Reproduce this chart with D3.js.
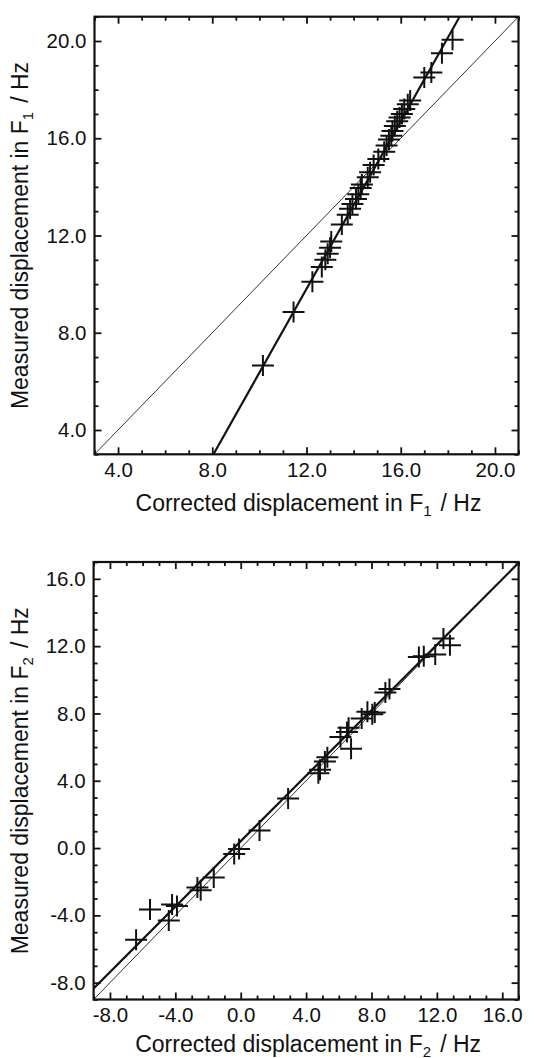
<!DOCTYPE html>
<html>
<head>
<meta charset="utf-8">
<script src="https://cdn.jsdelivr.net/npm/d3@7"></script>
<style>
body { margin: 0; background: #fff; }
svg { display: block; font-family: "Liberation Sans", Arial, Helvetica, sans-serif; }
</style>
</head>
<body>
<svg id="chart" width="539" height="1058"></svg>
<script>
// F1 panel: corrected vs measured displacement (Hz)
var f1Corrected = [10.15, 11.45, 12.25, 12.65, 12.8, 12.9, 13.0, 13.05, 13.5, 13.75, 13.85, 13.95,
    14.1, 14.2, 14.3, 14.35, 14.6, 14.7, 14.85, 15.05, 15.3, 15.4, 15.5, 15.6, 15.65, 15.75,
    15.85, 15.95, 16.05, 16.15, 16.3, 16.4, 17.0, 17.3, 17.75, 18.2];
var f1Measured = [6.65, 8.85, 10.1, 10.7, 11.0, 11.25, 11.5, 11.75, 12.45, 12.85, 13.1, 13.3,
    13.5, 13.7, 13.95, 14.1, 14.4, 14.6, 14.9, 15.15, 15.45, 15.7, 15.95, 16.1, 16.3, 16.5,
    16.7, 16.85, 17.0, 17.2, 17.4, 17.55, 18.5, 18.7, 19.5, 20.05];
var f1FitX = [8.05, 18.5];
var f1FitY = [3, 21];
var f1Ticks = [4, 8, 12, 16, 20];

// F2 panel
var f2Corrected = [-6.4, -5.55, -4.4, -4.2, -3.9, -2.65, -2.45, -1.65, -0.4, -0.1, 1.15, 2.9,
    4.75, 4.85, 5.15, 5.3, 6.1, 6.5, 6.6, 6.75, 7.4, 7.75, 8.05, 8.2, 8.85, 9.1,
    10.9, 11.2, 11.9, 12.4, 12.8];
var f2Measured = [-5.45, -3.65, -4.3, -3.35, -3.45, -2.35, -2.5, -1.75, -0.35, -0.05, 1.05, 2.95,
    4.45, 4.65, 5.15, 5.4, 6.6, 6.9, 7.15, 5.9, 7.7, 8.1, 7.95, 8.05, 9.25, 9.45,
    11.35, 11.4, 11.5, 12.45, 12.05];
var f2FitX = [-9, 17];
var f2FitY = [-8.35, 16.95];
var f2Ticks = [-8, -4, 0, 4, 8, 12, 16];

var svg = d3.select("#chart");

function drawPanel(p) {
    var x = d3.scaleLinear().domain(p.domain).range([p.left, p.right]);
    var y = d3.scaleLinear().domain(p.domain).range([p.bottom, p.top]);
    var minors = d3.range(Math.ceil(p.domain[0]), Math.floor(p.domain[1]) + 1)
        .filter(v => p.ticks.indexOf(v) < 0);
    var fmt = d => d.toFixed(1);

    var g = svg.append("g");

    g.append("clipPath").attr("id", p.id + "-clip")
        .append("rect")
        .attr("x", p.left).attr("y", p.top)
        .attr("width", p.right - p.left).attr("height", p.bottom - p.top);

    // ticks on all four sides, pointing inwards
    var axes = [
        { ax: d3.axisBottom(x), t: "translate(0," + p.bottom + ")", label: true },
        { ax: d3.axisTop(x), t: "translate(0," + p.top + ")", label: false },
        { ax: d3.axisLeft(y), t: "translate(" + p.left + ",0)", label: true },
        { ax: d3.axisRight(y), t: "translate(" + p.right + ",0)", label: false }
    ];
    axes.forEach(a => {
        var major = g.append("g").attr("transform", a.t)
            .call(a.ax.tickValues(p.ticks).tickSize(-7).tickPadding(8)
                .tickFormat(a.label ? fmt : ""));
        major.select(".domain").remove();
        major.selectAll(".tick line").attr("stroke", "#111").attr("stroke-width", 1.8);
        major.selectAll(".tick text").attr("fill", "#111").style("font-size", "20.5px");

        var minor = g.append("g").attr("transform", a.t)
            .call(a.ax.tickValues(minors).tickSize(-4).tickFormat(""));
        minor.select(".domain").remove();
        minor.selectAll(".tick line").attr("stroke", "#111").attr("stroke-width", 1.8);
    });

    var plot = g.append("g").attr("clip-path", "url(#" + p.id + "-clip)");

    // 1:1 line
    plot.append("line")
        .attr("x1", x(p.domain[0])).attr("y1", y(p.domain[0]))
        .attr("x2", x(p.domain[1])).attr("y2", y(p.domain[1]))
        .attr("stroke", "#333").attr("stroke-width", 1);

    // fitted line
    plot.append("line")
        .attr("x1", x(p.fitX[0])).attr("y1", y(p.fitY[0]))
        .attr("x2", x(p.fitX[1])).attr("y2", y(p.fitY[1]))
        .attr("stroke", "#111").attr("stroke-width", 2.2);

    // plus markers
    plot.selectAll(".pt")
        .data(p.xs.map((v, i) => [v, p.ys[i]]))
        .enter().append("path")
        .attr("class", "pt")
        .attr("d", d => {
            var cx = x(d[0]), cy = y(d[1]);
            return "M" + (cx - 11) + "," + cy + "H" + (cx + 11) +
                "M" + cx + "," + (cy - 10.5) + "V" + (cy + 10.5);
        })
        .attr("stroke", "#111").attr("stroke-width", 2).attr("fill", "none");

    // frame
    g.append("rect")
        .attr("x", p.left).attr("y", p.top)
        .attr("width", p.right - p.left).attr("height", p.bottom - p.top)
        .attr("fill", "none").attr("stroke", "#111").attr("stroke-width", 2.2);

    // axis titles with subscript
    function title(sel, start) {
        sel.append("tspan").text(start + " displacement in F");
        sel.append("tspan").attr("dy", 5).style("font-size", "15px").text(p.sub);
        sel.append("tspan").attr("dy", -5).attr("dx", 9).text("/ Hz");
    }
    var xt = g.append("text")
        .attr("x", (p.left + p.right) / 2 + 2).attr("y", p.bottom + p.titleGap)
        .attr("text-anchor", "middle").attr("fill", "#111")
        .style("font-size", "23px");
    title(xt, "Corrected");

    var yt = g.append("text")
        .attr("transform", "translate(28," + (p.top + p.bottom) / 2 + ") rotate(-90)")
        .attr("text-anchor", "middle").attr("fill", "#111")
        .style("font-size", "23px");
    title(yt, "Measured");
}

drawPanel({
    id: "f1", left: 94.5, right: 518.5, top: 16.7, bottom: 454.3,
    domain: [3, 21], ticks: f1Ticks, xs: f1Corrected, ys: f1Measured,
    fitX: f1FitX, fitY: f1FitY, sub: "1", titleGap: 57
});

drawPanel({
    id: "f2", left: 93.6, right: 518.6, top: 562, bottom: 999.5,
    domain: [-9, 17], ticks: f2Ticks, xs: f2Corrected, ys: f2Measured,
    fitX: f2FitX, fitY: f2FitY, sub: "2", titleGap: 52
});
</script>
</body>
</html>
